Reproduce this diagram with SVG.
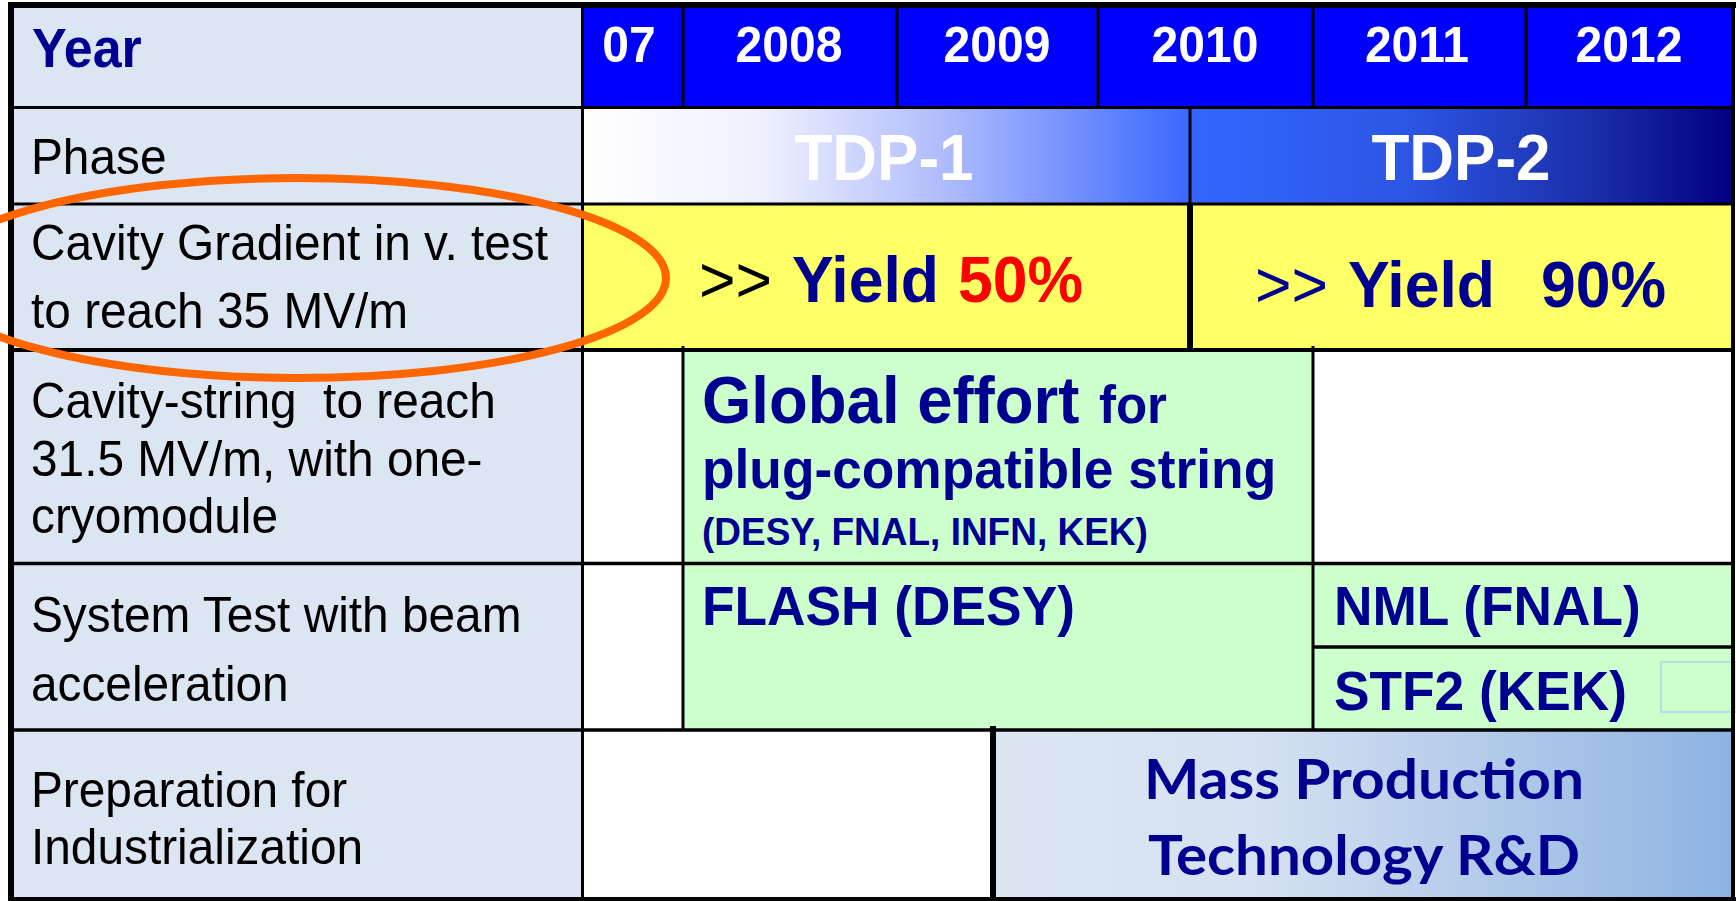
<svg xmlns="http://www.w3.org/2000/svg" width="1736" height="901" viewBox="0 0 1736 901">
<style>
text{font-family:"Liberation Sans",Arial,sans-serif;}
.lbl{font-size:47.8px;fill:#000;}
.yr{font-size:48px;font-weight:bold;fill:#fff;text-anchor:middle;}
.tdp{font-size:62px;font-weight:bold;fill:#fff;text-anchor:middle;}
.nv{fill:#000090;font-weight:bold;}
.ln{stroke:#000;fill:none;}
.mp{font-family:Lato,"Open Sans",sans-serif;font-weight:bold;font-size:56px;fill:#000090;text-anchor:middle;}
</style>
<defs>
<linearGradient id="g1" x1="0" y1="0" x2="1" y2="0">
<stop offset="0" stop-color="#FFFFFF"/>
<stop offset="0.3" stop-color="#EEF0FD"/>
<stop offset="0.6" stop-color="#AEBBFC"/>
<stop offset="1" stop-color="#3A68FF"/>
</linearGradient>
<linearGradient id="g2" x1="0" y1="0" x2="1" y2="0">
<stop offset="0" stop-color="#3366FF"/>
<stop offset="0.4" stop-color="#2C56E4"/>
<stop offset="0.75" stop-color="#1A2DA8"/>
<stop offset="1" stop-color="#000080"/>
</linearGradient>
<linearGradient id="g3" x1="0" y1="0" x2="1" y2="0">
<stop offset="0" stop-color="#DCE6F2"/>
<stop offset="0.35" stop-color="#D6E1F1"/>
<stop offset="1" stop-color="#8DB3E2"/>
</linearGradient>
</defs>
<rect x="0" y="0" width="1736" height="901" fill="#fff"/>

<g id="label-year"><rect x="11" y="5" width="571" height="102" fill="#DCE6F2"/><text x="32" y="67" class="nv" style="font-size:52px" transform="matrix(1 0 0 1.05 0 -3.35)">Year</text></g>
<g id="label-phase"><rect x="11" y="107" width="571" height="97" fill="#DCE6F2"/><text x="31" y="174" class="lbl" transform="matrix(1 0 0 1.05 0 -8.7)">Phase</text></g>
<g id="label-gradient"><rect x="11" y="204" width="571" height="146" fill="#DCE6F2"/><text x="31" y="260" class="lbl" transform="matrix(1 0 0 1.05 0 -13)">Cavity Gradient in v. test</text><text x="31" y="328" class="lbl" transform="matrix(1 0 0 1.05 0 -16.4)">to reach 35 MV/m</text></g>
<g id="label-string"><rect x="11" y="350" width="571" height="213" fill="#DCE6F2"/><text x="31" y="418" class="lbl" xml:space="preserve" transform="matrix(1 0 0 1.05 0 -20.9)">Cavity-string  to reach</text><text x="31" y="476" class="lbl" transform="matrix(1 0 0 1.05 0 -23.8)">31.5 MV/m, with one-</text><text x="31" y="533" class="lbl" transform="matrix(1 0 0 1.05 0 -26.65)">cryomodule</text></g>
<g id="label-system"><rect x="11" y="563" width="571" height="167" fill="#DCE6F2"/><text x="31" y="632" class="lbl" transform="matrix(1 0 0 1.05 0 -31.6)">System Test with beam</text><text x="31" y="701" class="lbl" transform="matrix(1 0 0 1.05 0 -35.05)">acceleration</text></g>
<g id="label-prep"><rect x="11" y="730" width="571" height="171" fill="#DCE6F2"/><text x="31" y="807" class="lbl" transform="matrix(1 0 0 1.05 0 -40.35)">Preparation for</text><text x="31" y="864" class="lbl" transform="matrix(1 0 0 1.05 0 -43.2)">Industrialization</text></g>

<g id="years">
<rect x="582" y="5" width="1151" height="102" fill="#0000FF"/>
<g transform="matrix(1 0 0 1.05 0 -3.1)">
<text x="629" y="62" class="yr">07</text>
<text x="789" y="62" class="yr">2008</text>
<text x="997" y="62" class="yr">2009</text>
<text x="1205" y="62" class="yr">2010</text>
<text x="1417" y="62" class="yr">2011</text>
<text x="1629" y="62" class="yr">2012</text>
</g>
</g>
<g id="tdp1"><rect x="582" y="107" width="608" height="97" fill="url(#g1)"/><text x="884" y="180" class="tdp" transform="matrix(1 0 0 1.05 0 -9)">TDP-1</text></g>
<g id="tdp2"><rect x="1190" y="107" width="543" height="97" fill="url(#g2)"/><text x="1461" y="180" class="tdp" transform="matrix(1 0 0 1.05 0 -9)">TDP-2</text></g>

<g id="yield50"><rect x="582" y="204" width="608" height="146" fill="#FFFF66"/>
<text y="302" style="font-size:62.5px" transform="matrix(1 0 0 1.05 0 -15.1)"><tspan x="699" fill="#000">&gt;&gt;</tspan><tspan x="792" class="nv">Yield</tspan><tspan x="958" font-weight="bold" fill="#FF0000">50%</tspan></text></g>
<g id="yield90"><rect x="1190" y="204" width="543" height="146" fill="#FFFF66"/>
<text y="307" style="font-size:62.5px" transform="matrix(1 0 0 1.05 0 -15.35)"><tspan x="1255" fill="#000090">&gt;&gt;</tspan><tspan x="1348" class="nv">Yield</tspan><tspan x="1541" class="nv">90%</tspan></text></g>

<g id="global-effort"><rect x="683" y="350" width="630" height="213" fill="#CCFFCC"/>
<text y="423" class="nv" transform="matrix(1 0 0 1.05 0 -21.15)"><tspan x="702" style="font-size:63.5px">Global effort</tspan><tspan x="1099" style="font-size:51px">for</tspan></text>
<text x="702" y="488" class="nv" style="font-size:53.3px" transform="matrix(1 0 0 1.05 0 -24.4)">plug-compatible string</text>
<text x="702" y="545" class="nv" style="font-size:37px" transform="matrix(1 0 0 1.05 0 -27.25)">(DESY, FNAL, INFN, KEK)</text></g>

<g id="flash"><rect x="683" y="563" width="630" height="167" fill="#CCFFCC"/><text x="702" y="625" class="nv" style="font-size:53.3px" transform="matrix(1 0 0 1.05 0 -31.25)">FLASH (DESY)</text></g>
<g id="nml"><rect x="1313" y="563" width="420" height="84" fill="#CCFFCC"/><text x="1334" y="625" class="nv" style="font-size:53.3px" transform="matrix(1 0 0 1.05 0 -31.25)">NML (FNAL)</text></g>
<g id="stf2"><rect x="1313" y="647" width="420" height="83" fill="#CCFFCC"/><text x="1334" y="710" class="nv" style="font-size:53.3px" transform="matrix(1 0 0 1.05 0 -35.5)">STF2 (KEK)</text>
<rect x="1661" y="662" width="80" height="50" fill="#CCFFCC" stroke="#B7DCE4" stroke-width="2"/></g>

<g id="mass-production"><rect x="993" y="730" width="740" height="171" fill="url(#g3)"/>
<text x="1364" y="799" class="mp" textLength="440" lengthAdjust="spacingAndGlyphs">Mass Production</text>
<text x="1364" y="875" class="mp" textLength="432" lengthAdjust="spacingAndGlyphs">Technology R&amp;D</text></g>

<g id="grid">
<line class="ln" x1="8" y1="5" x2="1736" y2="5" stroke-width="6"/>
<line class="ln" x1="11" y1="2" x2="11" y2="901" stroke-width="6"/>
<line class="ln" x1="1733" y1="2" x2="1733" y2="901" stroke-width="4"/>
<line class="ln" x1="8" y1="899" x2="1736" y2="899" stroke-width="4"/>
<line class="ln" x1="11" y1="107.5" x2="1733" y2="107.5" stroke-width="3"/>
<line class="ln" x1="11" y1="204" x2="1733" y2="204" stroke-width="3"/>
<line class="ln" x1="11" y1="350" x2="1733" y2="350" stroke-width="4"/>
<line class="ln" x1="11" y1="563.5" x2="1733" y2="563.5" stroke-width="3.5"/>
<line class="ln" x1="11" y1="730" x2="1733" y2="730" stroke-width="3.5"/>
<line class="ln" x1="582.5" y1="5" x2="582.5" y2="901" stroke-width="3"/>
<line class="ln" x1="683" y1="5" x2="683" y2="107" stroke-width="3"/>
<line class="ln" x1="897" y1="5" x2="897" y2="107" stroke-width="3"/>
<line class="ln" x1="1098" y1="5" x2="1098" y2="107" stroke-width="3"/>
<line class="ln" x1="1313" y1="5" x2="1313" y2="107" stroke-width="3"/>
<line class="ln" x1="1526" y1="5" x2="1526" y2="107" stroke-width="3"/>
<line class="ln" x1="1190" y1="107" x2="1190" y2="204" stroke-width="3"/>
<line class="ln" x1="1190" y1="204" x2="1190" y2="350" stroke-width="6"/>
<line class="ln" x1="683" y1="346" x2="683" y2="730" stroke-width="3"/>
<line class="ln" x1="1313" y1="346" x2="1313" y2="730" stroke-width="3"/>
<line class="ln" x1="1313" y1="647" x2="1733" y2="647" stroke-width="3.5"/>
<line class="ln" x1="993" y1="726" x2="993" y2="901" stroke-width="6"/>
</g>

<g id="highlight"><ellipse cx="298" cy="278" rx="368" ry="100" fill="none" stroke="#FF6600" stroke-width="8"/></g>
</svg>
